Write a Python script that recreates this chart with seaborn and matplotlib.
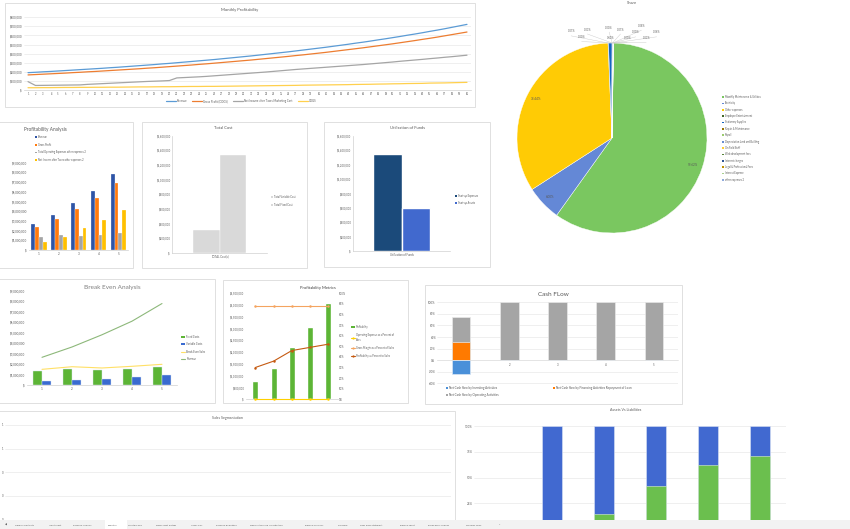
import numpy as np
import pandas as pd
import matplotlib
matplotlib.use("Agg")
import matplotlib.pyplot as plt
import seaborn as sns
from matplotlib.patches import Rectangle, Patch
from matplotlib.lines import Line2D
from matplotlib.ticker import FuncFormatter

# ======================= DATA =======================
months = list(range(1, 61))
revenue_k = [191, 195, 200, 204, 209, 214, 219, 224, 229, 234, 239, 245,
             250, 256, 262, 268, 274, 280, 287, 293, 300, 307, 314, 321,
             328, 335, 343, 351, 359, 367, 375, 384, 393, 402, 411, 420,
             430, 440, 450, 460, 470, 481, 492, 503, 515, 526, 538, 551,
             563, 576, 589, 603, 616, 630, 645, 659, 674, 690, 706, 722]
gross_profit_k = [166, 170, 174, 178, 182, 186, 191, 195, 200, 204, 209, 214,
                  219, 224, 229, 234, 240, 245, 251, 257, 263, 269, 275, 282,
                  288, 295, 302, 309, 316, 323, 330, 338, 346, 354, 362, 370,
                  379, 387, 396, 405, 414, 424, 434, 444, 454, 464, 475, 486,
                  497, 508, 520, 532, 544, 557, 569, 582, 596, 610, 624, 638]
net_income_k = [92, 50, 51, 52, 53, 54, 55, 56, 62, 66, 70, 74,
                78, 82, 86, 90, 94, 97, 100, 104, 133, 137, 141, 145,
                150, 156, 162, 168, 174, 180, 186, 192, 198, 205, 212, 219,
                226, 232, 238, 244, 250, 256, 262, 268, 274, 280, 287, 294,
                301, 308, 316, 323, 330, 337, 345, 352, 360, 367, 375, 383]
cogs_k = [25, 25, 26, 26, 27, 28, 28, 29, 29, 30, 30, 31,
          31, 32, 33, 34, 34, 35, 36, 36, 37, 38, 39, 39,
          40, 40, 41, 42, 43, 44, 45, 46, 47, 48, 49, 50,
          51, 53, 54, 55, 56, 57, 58, 59, 61, 62, 63, 65,
          66, 68, 69, 71, 72, 73, 76, 77, 78, 80, 82, 84]
monthly_series = ["Revenue", "Gross Profit (COGS)",
                  "Net Income after Taxes Marketing Cost", "COGS"]

years = ["1", "2", "3", "4", "5"]
revenue_y = [2650000, 3640000, 4810000, 6110000, 7800000]
gross_profit_y = [2340000, 3200000, 4260000, 5390000, 6900000]
opex_y = [1310000, 1520000, 1410000, 1520000, 1720000]
net_income_y = [790000, 1310000, 2240000, 3060000, 4090000]
pa_series = ["Revenue", "Gross Profit",
             "Total Operating Expenses other expenses 2",
             "Net Income after Taxes other expenses 2"]

share_labels = ["Monthly Maintenance & Utilities", "Electricity", "Other expenses",
                "Employee Entertainment", "Stationery Supplies", "Repair & Maintenance",
                "Payroll", "Depreciation Land and Building", "On Field Staff",
                "Web development fees", "Internet charges", "Legal & Professional Fees",
                "Interest Expense", "other expenses 2"]
share_values = [59.62, 6.00, 33.44, 0.07, 0.60, 0.03, 0.00, 0.00, 0.07, 0.00,
                0.08, 0.00, 0.06, 0.03]

total_cost_category = "TOTAL Cost(s)"
total_cost_series = ["Total Variable Cost", "Total Fixed Cost"]
total_cost_values = [313000, 1340000]

funds_category = "Utilization of Funds"
funds_series = ["Start-up Expenses", "Start-up Assets"]
funds_values = [1350000, 598000]

fixed_costs = [1340000, 1500000, 1440000, 1560000, 1720000]
variable_costs = [350000, 450000, 570000, 730000, 930000]
break_even_sales = [1500000, 1750000, 1630000, 1790000, 1980000]
be_series = ["Fixed Costs", "Variable Costs", "Break Even Sales", "Revenue"]

op_expense_pct = [0, 0, 0, 0, 0]
gross_margin_pct = [88, 88, 88, 88, 88]
profit_pct = [30, 36, 46, 49, 52]
pm_series = ["Profitability", "Operating Expense as a Percent of\nSales",
             "Gross Margin as a Percent of Sales", "Profitability as Percent to Sales"]

cash_investing = [-24.6, 0, 0, 0, 0]
cash_financing = [31.4, 0.6, 0.6, 0.6, 0.6]
cash_operating = [44.0, 99.4, 99.4, 99.4, 99.4]
cash_series = ["Net Cash flow by Investing Activities",
               "Net Cash flow by Financing Activities Repayment of Loan",
               "Net Cash flow by Operating Activities"]

assets_green = [0, 14.8, 42.2, 62.0, 70.7]
liab_blue = [100, 85.2, 57.8, 38.0, 29.3]

sheet_tabs = ["Table of Contents", "Input Sheet", "Revenue Analysis", "Analytics",
              "Monthly P&L", "Fixed Asset Details", "Yearly P&L", "Revenue Evaluation",
              "Depreciation and Amortization", "Balance Currency", "Scorecard",
              "Cash Flow Statement", "Balance Sheet", "Break Even Analysis",
              "Scenario Tools", "+"]

# ======================= STYLE =======================
sns.set_theme(style="white")
plt.rcParams["font.family"] = ["Lato", "DejaVu Sans"]
TXT = "#595959"
GRID = "#E3E3E3"
AXIS = "#D0D0D0"
BORDER = "#DADADA"

W, H = 850, 529
fig = plt.figure(figsize=(W / 100, H / 100), dpi=100)
fig.patch.set_facecolor("white")


def add_ax(x0, y0, x1, y1):
    ax = fig.add_axes([x0 / W, 1 - y1 / H, (x1 - x0) / W, (y1 - y0) / H])
    ax.set_facecolor("none")
    return ax


def panel(x0, y0, x1, y1):
    fig.add_artist(Rectangle((x0 / W, 1 - y1 / H), (x1 - x0) / W, (y1 - y0) / H,
                             transform=fig.transFigure, fill=False, ec=BORDER,
                             lw=0.6, zorder=-5))


def ftext(x, y, s, **kw):
    kw.setdefault("color", TXT)
    kw.setdefault("ha", "center")
    kw.setdefault("va", "center")
    fig.text(x / W, 1 - y / H, s, **kw)


money = FuncFormatter(lambda v, _: "$-" if abs(v) < 1e-9 else f"${v:,.0f}")
pctf = FuncFormatter(lambda v, _: f"{v:.0f}%")


def style(ax, fs, grid=True, left=False):
    for s in ["top", "right", "left"]:
        ax.spines[s].set_visible(False)
    ax.spines["bottom"].set_color(AXIS)
    ax.spines["bottom"].set_linewidth(0.5)
    if left:
        ax.spines["left"].set_visible(True)
        ax.spines["left"].set_color(AXIS)
        ax.spines["left"].set_linewidth(0.5)
    ax.tick_params(length=0, labelsize=fs, colors=TXT, pad=1.2)
    ax.grid(False)
    if grid:
        ax.grid(axis="y", color=GRID, lw=0.4)
    ax.set_axisbelow(True)
    ax.set_xlabel("")
    ax.set_ylabel("")


def leg(handles, labels, x, y, fs, loc="upper left", **kw):
    return fig.legend(handles, labels, loc=loc, bbox_to_anchor=(x / W, 1 - y / H),
                      bbox_transform=fig.transFigure, frameon=False, fontsize=fs,
                      labelcolor=TXT, borderpad=0, borderaxespad=0, **kw)


def sq(c):
    return Patch(facecolor=c, edgecolor="none")


# ======================= MONTHLY PROFITABILITY =======================
panel(5, 3, 475, 107)
ax = add_ax(24.3, 17.3, 470.7, 90)
mcolors = ["#5B9BD5", "#ED7D31", "#A5A5A5", "#FFD04D"]
dfm = pd.DataFrame({
    "Month": months * 4,
    "Value": np.concatenate([revenue_k, gross_profit_k, net_income_k, cogs_k]) * 1000,
    "Series": np.repeat(monthly_series, len(months)),
})
sns.lineplot(data=dfm, x="Month", y="Value", hue="Series", hue_order=monthly_series,
             palette=mcolors, linewidth=0.9, ax=ax, legend=False)
ax.set_xlim(0.5, 60.5)
ax.set_xticks(months)
ax.set_ylim(0, 800000)
ax.set_yticks(np.arange(0, 800001, 100000))
ax.yaxis.set_major_formatter(money)
style(ax, 2.1)
ax.tick_params(axis="x", labelsize=1.8)
ftext(240, 10, "Monthly Profitability", fontsize=3.0)
leg([Line2D([], [], color=c, lw=0.9) for c in mcolors], monthly_series, 241, 101, 2.0,
    loc="center", ncol=4, handlelength=3.6, columnspacing=1.8, handletextpad=0.4)

# ======================= SHARE PIE =======================
pie_colors = ["#7AC760", "#6488D6", "#FFCB05", "#43682B", "#1565C0", "#997300",
              "#9BCB6F", "#698ED0", "#FFCD33", "#548235", "#2F5597", "#BF9000",
              "#A9D18E", "#8FAADC"]
ax = add_ax(517, 43, 707, 233)
wedges, _ = ax.pie(share_values, colors=pie_colors, startangle=89, counterclock=False,
                   wedgeprops=dict(edgecolor="white", linewidth=0.3))
ax.set_xlim(-1, 1)
ax.set_ylim(-1, 1)
ax.set_aspect("equal")
small_pos = [(-0.43, 1.10), (-0.01, 1.03), (-0.26, 1.12), (-0.32, 1.04), (-0.03, 1.14),
             (0.09, 1.12), (0.25, 1.09), (0.31, 1.16), (0.16, 1.03), (0.47, 1.09),
             (0.36, 1.03)]
for i, (w, v) in enumerate(zip(wedges, share_values)):
    mid = np.deg2rad((w.theta1 + w.theta2) / 2)
    if i < 3:
        ax.text(0.9 * np.cos(mid), 0.9 * np.sin(mid), f"{v:.2f}%", fontsize=2.2,
                ha="center", va="center", color=TXT)
    else:
        lx, ly = small_pos[i - 3]
        ax.plot([np.cos(mid), lx], [np.sin(mid), ly - 0.025], color="#C8C8C8", lw=0.3,
                clip_on=False)
        ax.text(lx, ly, f"{v:.2f}%", fontsize=1.9, ha="center", va="bottom", color=TXT)
ftext(632, 3, "Share", fontsize=3.0)
leg([sq(c) for c in pie_colors], share_labels, 722, 95, 1.8, handlelength=0.7,
    handleheight=0.7, labelspacing=0.95, handletextpad=0.4)

# ======================= PROFITABILITY ANALYSIS =======================
panel(-1, 122, 133, 268)
ax = add_ax(29, 162.7, 128.4, 250)
pa_colors = ["#2E54A6", "#FF7A0E", "#A5A5A5", "#FFC000"]
dfa = pd.DataFrame({
    "Year": years * 4,
    "Value": revenue_y + gross_profit_y + opex_y + net_income_y,
    "Series": np.repeat(pa_series, len(years)),
})
sns.barplot(data=dfa, x="Year", y="Value", hue="Series", hue_order=pa_series,
            palette=pa_colors, width=0.78, saturation=1, errorbar=None, legend=False,
            edgecolor="white", linewidth=0.2, ax=ax)
ax.set_xlim(-0.5, 4.5)
ax.set_ylim(0, 9000000)
ax.set_yticks(np.arange(0, 9000001, 1000000))
ax.yaxis.set_major_formatter(money)
style(ax, 2.2, grid=False)
ftext(45, 130, "Profitability Analysis", fontsize=3.4)
leg([sq(c) for c in pa_colors], pa_series, 35, 135, 1.8, handlelength=0.7,
    handleheight=0.7, labelspacing=1.45, handletextpad=0.4)

# ======================= TOTAL COST =======================
panel(142, 122, 307, 268)
ax = add_ax(172.3, 135.7, 266.7, 253)
dft = pd.DataFrame({"Cat": [total_cost_category] * 2, "Series": total_cost_series,
                    "Value": total_cost_values})
sns.barplot(data=dft, x="Cat", y="Value", hue="Series", palette=["#D9D9D9", "#D9D9D9"],
            width=0.56, saturation=1, errorbar=None, legend=False, edgecolor="white",
            linewidth=0.3, ax=ax)
ax.set_xlim(-0.5, 0.5)
ax.set_ylim(0, 1600000)
ax.set_yticks(np.arange(0, 1600001, 200000))
ax.yaxis.set_major_formatter(money)
style(ax, 2.0, grid=False, left=True)
ftext(223, 128, "Total Cost", fontsize=3.0)
leg([sq("#D9D9D9")] * 2, total_cost_series, 271, 195, 1.9, handlelength=0.7,
    handleheight=0.7, labelspacing=1.4, handletextpad=0.4)

# ======================= UTILIZATION OF FUNDS =======================
panel(324, 122, 490, 267)
ax = add_ax(353, 136, 450, 251)
dfu = pd.DataFrame({"Cat": [funds_category] * 2, "Series": funds_series,
                    "Value": funds_values})
sns.barplot(data=dfu, x="Cat", y="Value", hue="Series", palette=["#1B4A7A", "#4169CE"],
            width=0.58, saturation=1, errorbar=None, legend=False, ax=ax)
ax.set_xlim(-0.5, 0.5)
ax.set_ylim(0, 1600000)
ax.set_yticks(np.arange(0, 1600001, 200000))
ax.yaxis.set_major_formatter(money)
style(ax, 2.0, grid=False, left=True)
ftext(407, 128, "Utilization of Funds", fontsize=3.0)
leg([sq("#1B4A7A"), sq("#4169CE")], funds_series, 455, 194, 1.9, handlelength=0.7,
    handleheight=0.7, labelspacing=1.1, handletextpad=0.4)

# ======================= BREAK EVEN ANALYSIS =======================
panel(-1, 279, 215, 403)
ax = add_ax(27, 291, 177, 385)
be_colors = ["#5DB536", "#3A6BD0", "#FFE066", "#8DB87A"]
dfb = pd.DataFrame({"Year": years * 2, "Value": fixed_costs + variable_costs,
                    "Series": np.repeat(be_series[:2], len(years))})
sns.barplot(data=dfb, x="Year", y="Value", hue="Series", hue_order=be_series[:2],
            palette=be_colors[:2], width=0.58, saturation=1, errorbar=None, legend=False,
            edgecolor="#DDE6F5", linewidth=0.3, ax=ax)
dfl = pd.DataFrame({"Year": years * 2, "Value": break_even_sales + revenue_y,
                    "Series": np.repeat(be_series[2:], len(years))})
sns.lineplot(data=dfl, x="Year", y="Value", hue="Series", hue_order=be_series[2:],
             palette=be_colors[2:], linewidth=0.8, legend=False, ax=ax)
ax.set_xlim(-0.5, 4.5)
ax.set_ylim(0, 9000000)
ax.set_yticks(np.arange(0, 9000001, 1000000))
ax.yaxis.set_major_formatter(money)
style(ax, 2.2, grid=False)
ftext(112, 287, "Break Even Analysis", fontsize=4.6, color="#7F7F7F")
leg([sq(be_colors[0]), sq(be_colors[1]), Line2D([], [], color=be_colors[2], lw=0.8),
     Line2D([], [], color=be_colors[3], lw=0.8)], be_series, 181, 335, 1.9,
    handlelength=1.6, handleheight=0.7, labelspacing=1.25, handletextpad=0.4)

# ======================= PROFITABILITY METRICS =======================
panel(223, 280, 408, 403)
ax = add_ax(246.2, 293.3, 337.5, 399.3)
sns.barplot(x=years, y=net_income_y, color="#5DB536", width=0.33, saturation=1,
            errorbar=None, ax=ax)
ax.set_xlim(-0.5, 4.5)
ax.set_ylim(0, 4500000)
ax.set_yticks(np.arange(0, 4500001, 500000))
ax.yaxis.set_major_formatter(money)
style(ax, 2.0, grid=False)
ax.set_xticklabels([])
ax2 = ax.twinx()
ax2.set_facecolor("none")
pm_colors = ["#FFD000", "#F4A460", "#C55A11"]
dfp = pd.DataFrame({"Year": years * 3,
                    "Value": op_expense_pct + gross_margin_pct + profit_pct,
                    "Series": np.repeat(pm_series[1:], len(years))})
sns.lineplot(data=dfp, x="Year", y="Value", hue="Series", hue_order=pm_series[1:],
             palette=pm_colors, linewidth=0.8, marker="o", markersize=1.8,
             markeredgewidth=0, legend=False, ax=ax2, clip_on=False)
ax2.set_xlim(-0.5, 4.5)
ax2.set_ylim(0, 100)
ax2.set_yticks(np.arange(0, 101, 10))
ax2.yaxis.set_major_formatter(pctf)
for s in ["top", "right", "left", "bottom"]:
    ax2.spines[s].set_visible(False)
ax2.tick_params(length=0, labelsize=2.0, colors=TXT, pad=1.2)
ax2.grid(False)
ax2.set_ylabel("")
ax2.set_xlabel("")
ftext(318, 288, "Profitability Metrics", fontsize=3.0, color="#404040")
leg([sq("#5DB536")] + [Line2D([], [], color=c, lw=0.8, marker="o", markersize=1.6,
                              markeredgewidth=0) for c in pm_colors],
    pm_series, 351, 325, 1.8, handlelength=1.6, handleheight=0.7, labelspacing=1.6,
    handletextpad=0.4)

# ======================= CASH FLOW =======================
panel(425, 285, 682, 404)
ax = add_ax(437, 302.3, 678, 386)
cash_top = np.array(cash_financing) + np.array(cash_operating)
sns.barplot(x=years, y=cash_top, color="#A5A5A5", width=0.39, saturation=1,
            errorbar=None, edgecolor="#E8E8E8", linewidth=0.5, ax=ax)
sns.barplot(x=years, y=cash_financing, color="#FF7A00", width=0.39, saturation=1,
            errorbar=None, edgecolor="#E8E8E8", linewidth=0.5, ax=ax)
sns.barplot(x=years, y=cash_investing, color="#4A90D9", width=0.39, saturation=1,
            errorbar=None, edgecolor="#D8E6F5", linewidth=0.5, ax=ax)
ax.set_xlim(-0.5, 4.5)
ax.set_ylim(-44.6, 100)
ax.set_yticks(np.arange(-40, 101, 20))
ax.yaxis.set_major_formatter(pctf)
style(ax, 2.1)
ax.spines["bottom"].set_position(("data", 0))
ax.spines["bottom"].set_color("#E0E0E0")
ax.tick_params(axis="x", labelsize=2.0, pad=2)
ftext(553, 294, "Cash FLow", fontsize=4.6, color="#595959")
leg([sq("#4A90D9"), sq("#A5A5A5")], [cash_series[0], cash_series[2]], 446, 386, 2.2,
    handlelength=0.7, handleheight=0.7, labelspacing=0.9, handletextpad=0.4)
leg([sq("#FF7A00")], [cash_series[1]], 553, 386, 2.2, handlelength=0.7,
    handleheight=0.7, handletextpad=0.4)

# ======================= SALES SEGMENTATION =======================
panel(-1, 411, 455, 521)
ax = add_ax(5, 425, 451, 519.3)
ax.set_ylim(0, 1)
ax.set_xlim(0, 1)
ax.set_yticks(np.linspace(0, 1, 5))
ax.yaxis.set_major_formatter(FuncFormatter(lambda v, _: f"{v:.0f}"))
ax.set_xticks([])
style(ax, 2.0)
ax.spines["bottom"].set_visible(False)
ax.tick_params(axis="y", pad=1.0)
ftext(227, 418, "Sales Segmentation", fontsize=2.6)

# ======================= ASSETS VS LIABILITIES =======================
ax = add_ax(474, 426, 786, 529.3)
ab_top = np.array(assets_green) + np.array(liab_blue)
sns.barplot(x=years, y=ab_top, color="#4169D0", width=0.385, saturation=1,
            errorbar=None, edgecolor="#DCE4F5", linewidth=0.4, ax=ax)
sns.barplot(x=years, y=assets_green, color="#6BBF4E", width=0.385, saturation=1,
            errorbar=None, edgecolor="#DCEFD5", linewidth=0.4, ax=ax)
ax.set_xlim(-1.49, 4.5)
ax.set_ylim(0, 100)
ax.set_yticks([25, 50, 75, 100])
ax.yaxis.set_major_formatter(pctf)
style(ax, 2.2)
ax.set_xticklabels([])
ax.spines["bottom"].set_visible(False)
ftext(626, 410, "Assets Vs Liabilities", fontsize=2.6)

# ======================= SHEET TAB BAR =======================
fig.add_artist(Rectangle((0, 0), 1, 9 / H, transform=fig.transFigure, fc="#F2F2F2",
                         ec="none", zorder=20))
tab_x = [15, 49, 73, 108, 128, 156, 191, 216, 250, 305, 338, 360, 400, 428, 466, 499]
fig.add_artist(Rectangle((105 / W, 0), 22 / W, 9 / H, transform=fig.transFigure,
                         fc="white", ec="none", zorder=21))
ftext(6, 525, "\u25c0", fontsize=1.8, zorder=22)
for x, name in zip(tab_x, sheet_tabs):
    ftext(x, 525, name, fontsize=1.7, ha="left", zorder=22)

fig.savefig("out.png", dpi=100)
